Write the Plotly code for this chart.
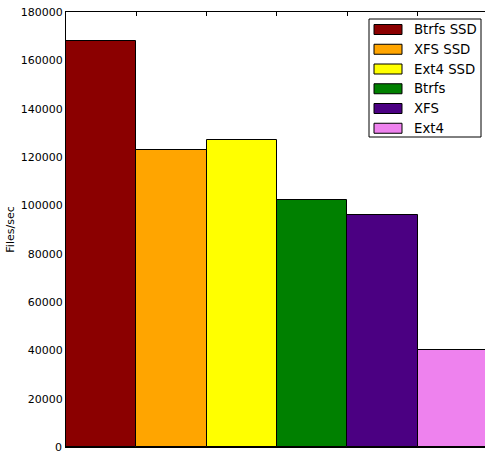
import plotly.graph_objects as go

# Data
names = ["Btrfs SSD", "XFS SSD", "Ext4 SSD", "Btrfs", "XFS", "Ext4"]
values = [168200, 123000, 127100, 102200, 96100, 40100]
colors = ["#8B0000", "#FFA500", "#FFFF00", "#008000", "#4B0082", "#EE82EE"]
y_ticks = list(range(0, 180001, 20000))
y_label = "Files/sec"

W, H = 485, 451
L, R, T, B = 66, 0, 12, 4
pw, ph = W - L - R, H - T - B
bar_px = 70.33  # pixel width of one bar slot
x_max = pw / bar_px

FONT = "DejaVu Sans"

fig = go.Figure()
fig.add_trace(go.Bar(
    x=[i + 0.5 for i in range(len(names))],
    y=values,
    width=1.0,
    marker=dict(color=colors, line=dict(color="black", width=1)),
    hovertext=names,
    showlegend=False,
))


def px_x(p):
    return (p - L) / pw


def px_y(p):
    return (H - B - p) / ph


shapes = []
annotations = []
# legend box
shapes.append(dict(type="rect", xref="paper", yref="paper",
                   x0=px_x(369), x1=px_x(481), y0=px_y(137), y1=px_y(19),
                   line=dict(color="black", width=1), fillcolor="white", layer="above"))
for i, (n, c) in enumerate(zip(names, colors)):
    cy = 29.5 + i * 19.75
    shapes.append(dict(type="rect", xref="paper", yref="paper",
                       x0=px_x(374), x1=px_x(402), y0=px_y(cy + 5), y1=px_y(cy - 5),
                       line=dict(color="black", width=1), fillcolor=c, layer="above"))
    annotations.append(dict(xref="paper", yref="paper", x=px_x(412), y=px_y(cy),
                            xanchor="left", yanchor="middle", text=n, showarrow=False,
                            font=dict(family=FONT, size=13.3, color="black")))

# the lowest tick label sits on the figure edge: draw it as text so it is not dropped
annotations.append(dict(xref="paper", yref="y", x=0, y=y_ticks[0], xanchor="right",
                        yanchor="middle", xshift=-2, text=str(y_ticks[0]), showarrow=False,
                        font=dict(family=FONT, size=11, color="black")))

fig.update_layout(
    width=W, height=H,
    margin=dict(l=L, r=R, t=T, b=B, pad=0),
    paper_bgcolor="white", plot_bgcolor="white",
    font=dict(family=FONT, size=11, color="black"),
    bargap=0,
    shapes=shapes,
    annotations=annotations,
    xaxis=dict(range=[0, x_max], tickvals=list(range(0, 7)), showticklabels=False,
               ticks="inside", ticklen=4, tickcolor="black", showline=True,
               linecolor="black", linewidth=1, mirror="ticks", showgrid=False,
               zeroline=False, layer="below traces"),
    yaxis=dict(range=[0, 180000], tickvals=y_ticks[1:], tickformat="d",
               ticks="inside", ticklen=4, tickcolor="black", showline=True,
               linecolor="black", linewidth=1, showgrid=False, zeroline=False,
               title=dict(text=y_label, standoff=3, font=dict(size=11)),
               tickfont=dict(size=11), layer="below traces"),
)

fig.write_html("out.html")
